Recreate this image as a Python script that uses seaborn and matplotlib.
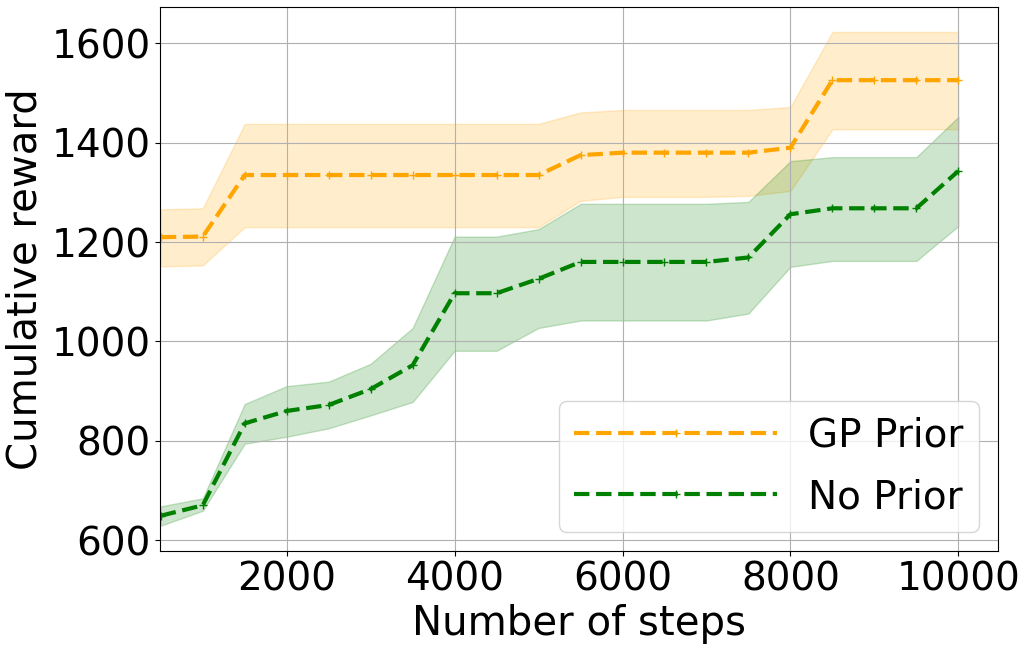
import numpy as np
import pandas as pd
import matplotlib
matplotlib.use("Agg")
import matplotlib.pyplot as plt
import seaborn as sns

# Data
steps = [500, 1000, 1500, 2000, 2500, 3000, 3500, 4000, 4500, 5000,
         5500, 6000, 6500, 7000, 7500, 8000, 8500, 9000, 9500, 10000]

gp_mean = [1210, 1211, 1335, 1335, 1335, 1335, 1335, 1335, 1335, 1335,
           1375, 1380, 1380, 1380, 1380, 1390, 1526, 1526, 1526, 1526]
gp_upper = [1266, 1268, 1438, 1438, 1438, 1438, 1438, 1438, 1438, 1438,
            1461, 1466, 1466, 1466, 1466, 1472, 1623, 1623, 1623, 1623]
gp_lower = [1151, 1153, 1230, 1230, 1230, 1230, 1230, 1230, 1230, 1230,
            1283, 1291, 1291, 1291, 1293, 1303, 1427, 1427, 1427, 1427]

np_mean = [649, 670, 835, 860, 872, 904, 952, 1097, 1097, 1126,
           1160, 1160, 1160, 1160, 1169, 1256, 1268, 1268, 1268, 1343]
np_upper = [668, 684, 874, 910, 919, 955, 1027, 1211, 1211, 1226,
            1277, 1277, 1277, 1277, 1281, 1363, 1371, 1371, 1371, 1452]
np_lower = [629, 659, 794, 808, 825, 851, 878, 981, 981, 1027,
            1042, 1042, 1042, 1042, 1056, 1150, 1162, 1162, 1162, 1232]

labels = ["GP Prior", "No Prior"]
colors = ["orange", "green"]

df = pd.DataFrame({
    "steps": steps * 2,
    "reward": gp_mean + np_mean,
    "method": [labels[0]] * len(steps) + [labels[1]] * len(steps),
})

fig, ax = plt.subplots(figsize=(10.28, 6.49), dpi=100)

sns.lineplot(data=df, x="steps", y="reward", hue="method",
             palette=dict(zip(labels, colors)), linestyle="--",
             linewidth=3, marker="+", markersize=6, markeredgewidth=1,
             ax=ax)

# seaborn paints marker edges white; make the '+' match the line
for line in ax.lines:
    line.set_markeredgecolor(line.get_color())

ax.fill_between(steps, gp_lower, gp_upper, color=colors[0], alpha=0.2)
ax.fill_between(steps, np_lower, np_upper, color=colors[1], alpha=0.2)

ax.set_xlim(495, 10475)
ax.set_ylim(578, 1673)
ax.grid(True)
ax.set_xlabel("Number of steps", fontsize=29)
ax.set_ylabel("Cumulative reward", fontsize=29)
ax.tick_params(labelsize=28)

handles, _ = ax.get_legend_handles_labels()
for h in handles:
    h.set_markeredgecolor(h.get_color())
ax.legend(handles, labels, loc="lower right", fontsize=28,
          handlelength=5.2, labelspacing=0.6)

fig.subplots_adjust(left=0.156, right=0.971, top=0.989, bottom=0.151)
fig.savefig("out.png")
